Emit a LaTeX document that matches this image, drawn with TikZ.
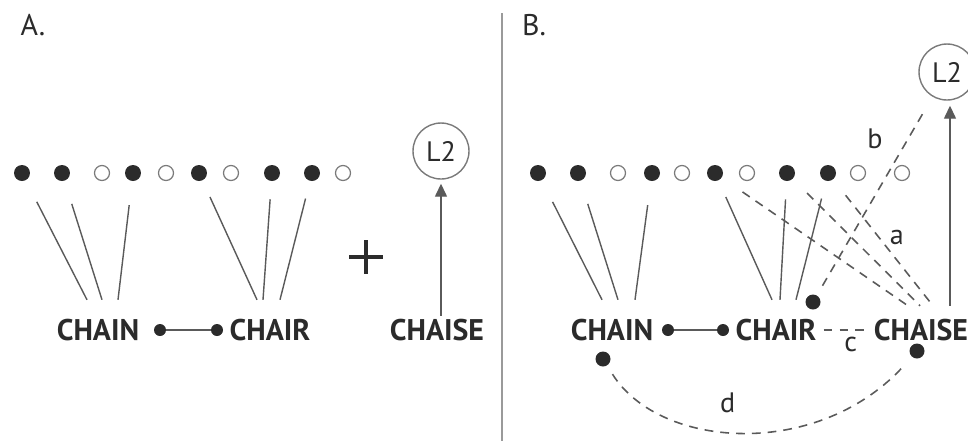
\documentclass[tikz,border=0pt]{standalone}
\usepackage{fontspec}
\setmainfont{PT Sans}
\usetikzlibrary{calc}
\usetikzlibrary{arrows.meta}

\definecolor{ink}{HTML}{2B2B2B}
\definecolor{wire}{HTML}{5A5A5A}
\definecolor{rim}{HTML}{7A7A7A}
\definecolor{rule}{HTML}{9A9A9A}

\tikzset{
 fdot/.style={circle,fill=ink,inner sep=0pt,minimum size=.32cm},
 odot/.style={circle,draw=rim,line width=.7pt,fill=white,inner sep=0pt,minimum size=.3cm},
 knot/.style={circle,fill=ink,inner sep=0pt,minimum size=.24cm},
 word/.style={font=\fontsize{17}{17}\selectfont\bfseries,text=ink,inner sep=0pt},
 lang/.style={circle,draw=rim,line width=.8pt,inner sep=0pt,minimum size=1.12cm,
   font=\fontsize{16}{16}\selectfont,text=ink},
 panel/.style={font=\fontsize{17}{17}\selectfont,text=ink,inner sep=0pt},
 tag/.style={font=\fontsize{16}{16}\selectfont,text=ink,inner sep=0pt},
 tie/.style={draw=wire,line width=.8pt},
 alt/.style={draw=wire,line width=.9pt,dash pattern=on 5pt off 4pt},
 rise/.style={draw=wire,line width=.8pt,->,>={Triangle[length=.26cm,width=.24cm]}}
}

\begin{document}
\begin{tikzpicture}[x=0.02cm,y=-0.02cm]
\useasboundingbox (0,0) rectangle (968,441);
\draw[rule,line width=1pt] (502,13) -- (502,441);
\node[panel] (labA) at (33,25) {A.};
\node[panel] (labB) at (534,25) {B.};

% panel A
\foreach \x/\k [count=\i] in {22/fdot,62/fdot,102/odot,133/fdot,166/odot,199/fdot,231/odot,272/fdot,312/fdot,343/odot}
 \node[\k] (a\i) at (\x,173) {};
\node[word] (chainA) at (98,330) {CHAIN};
\node[word] (chairA) at (270,330) {CHAIR};
\node[word] (chaiseA) at (437,330) {CHAISE};
\node[knot] (kA1) at (160,330) {};
\node[knot] (kA2) at (217,330) {};
\draw[tie] (kA1) -- (kA2);
\foreach \s/\dx in {1/-11,2/4,4/20}
 \draw[tie,shorten <=.48cm] (a\s) -- ($(chainA.north)+(\dx,-19)$);
\foreach \s/\dx in {6/-13,8/-7,9/10}
 \draw[tie,shorten <=.36cm] (a\s) -- ($(chairA.north)+(\dx,-19)$);
% plus sign
\draw[ink,line width=2.8pt] (349,257) -- (383,257) (366,240) -- (366,274);
\node[lang] (l2A) at (441,151) {L2};
\draw[rise,shorten <=.06cm,shorten >=.08cm] (chaiseA.north -| l2A.south) -- (l2A.south);

% panel B
\foreach \x/\k [count=\i] in {538/fdot,578/fdot,618/odot,652/fdot,682/odot,715/fdot,747/odot,787/fdot,828/fdot,858/odot,902/odot}
 \node[\k] (b\i) at (\x,173) {};
\node[word] (chainB) at (612,330) {CHAIN};
\node[word] (chairB) at (776,330) {CHAIR};
\node[word] (chaiseB) at (921,330) {CHAISE};
\node[knot] (kB1) at (668,330) {};
\node[knot] (kB2) at (723,330) {};
\draw[tie] (kB1) -- (kB2);
\foreach \s/\dx in {1/-10,2/6,4/23}
 \draw[tie,shorten <=.48cm] (b\s) -- ($(chainB.north)+(\dx,-19)$);
\foreach \s/\dx in {6/-4,8/4,9/20}
 \draw[tie,shorten <=.36cm] (b\s) -- ($(chairB.north)+(\dx,-19)$);
\node[lang] (l2B) at (947,72) {L2};
\draw[rise,shorten <=.26cm,shorten >=.1cm] (chaiseB.north -| 950,0) -- (l2B.south -| 950,0);
% dashed routes a-d
\node[fdot,minimum size=.3cm] (dR) at (813,302) {};
\node[fdot,minimum size=.3cm] (dN) at (603,359) {};
\node[fdot,minimum size=.3cm] (dS) at (917,351) {};
\draw[alt,shorten <=.5cm] (b6) -- ($(chaiseB.north)+(-13,-13)$);
\draw[alt,shorten <=.4cm] (b8) -- ($(chaiseB.north)+(-1,-13)$);
\draw[alt,shorten <=.4cm] (b9) -- ($(chaiseB.north)+(12,-13)$)
 node[tag,pos=.46,right=.2cm] {a};
\draw[alt,shorten <=.22cm,shorten >=.36cm] (dR) -- (l2B)
 node[tag,pos=.79,left=.5cm] {b};
\draw[alt,shorten <=.14cm,shorten >=.1cm] (chairB.east) -- (chaiseB.west)
 node[tag,pos=.6,below=.12cm] {c};
\draw[alt,shorten <=.2cm,shorten >=.2cm] (dN) .. controls (660,450) and (820,460) .. (dS)
 node[tag,pos=.45,above=.34cm] {d};
\end{tikzpicture}
\end{document}
